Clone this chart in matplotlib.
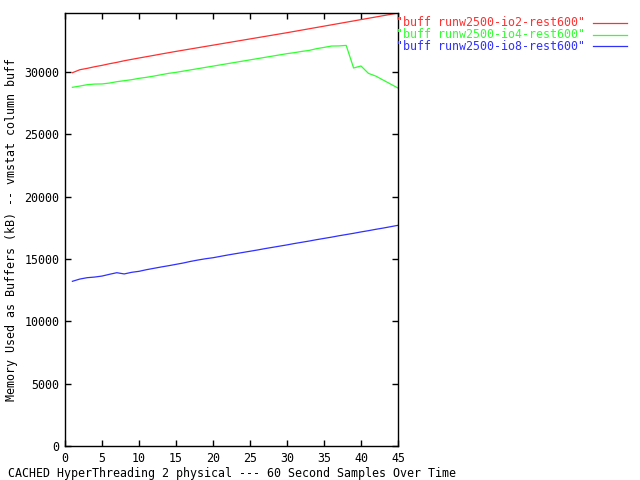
import matplotlib
matplotlib.use("Agg")
import matplotlib.pyplot as plt
from matplotlib.lines import Line2D

samples = list(range(1, 46))

labels = ['"buff runw2500-io2-rest600"',
          '"buff runw2500-io4-rest600"',
          '"buff runw2500-io8-rest600"']
colors = ['#ff3030', '#30ff30', '#3030ff']

io2 = [29940, 30180, 30290, 30420, 30530, 30660, 30770, 30900, 31010, 31120,
       31225, 31330, 31440, 31545, 31650, 31750, 31850, 31950, 32050, 32150,
       32250, 32350, 32450, 32550, 32650, 32750, 32850, 32950, 33050, 33150,
       33255, 33360, 33465, 33570, 33675, 33780, 33885, 33990, 34095, 34200,
       34305, 34410, 34515, 34620, 34730]
io4 = [28770, 28870, 28980, 29030, 29040, 29110, 29220, 29300, 29380, 29490,
       29570, 29670, 29780, 29890, 29970, 30070, 30170, 30270, 30370, 30470,
       30570, 30670, 30770, 30870, 30970, 31070, 31170, 31270, 31370, 31470,
       31550, 31650, 31730, 31870, 31970, 32080, 32090, 32130, 30320, 30480,
       29890, 29670, 29350, 29030, 28710]
io8 = [13210, 13390, 13500, 13550, 13630, 13770, 13900, 13800, 13930, 14010,
       14140, 14250, 14360, 14460, 14570, 14680, 14810, 14920, 15020, 15100,
       15210, 15320, 15420, 15520, 15620, 15720, 15830, 15930, 16030, 16130,
       16240, 16340, 16440, 16550, 16650, 16750, 16860, 16960, 17060, 17170,
       17270, 17380, 17480, 17590, 17700]

xticks = [0, 5, 10, 15, 20, 25, 30, 35, 40, 45]
yticks = [0, 5000, 10000, 15000, 20000, 25000, 30000]

font = "DejaVu Sans Mono"
fs = 8.4

fig = plt.figure(figsize=(6.4, 4.8), dpi=100)
W, H = 640, 480
ax_l, ax_r, ax_t, ax_b = 65, 398, 13, 446
ax = fig.add_axes([ax_l / W, 1 - ax_b / H, (ax_r - ax_l) / W, (ax_b - ax_t) / H])

series = [io2, io4, io8]
for ys, c in zip(series, colors):
    ax.plot(samples, ys, color=c, lw=0.9)

ax.set_xlim(0, 45)
ax.set_ylim(0, max(io2))
ax.set_xticks(xticks)
ax.set_yticks(yticks)
ax.tick_params(direction="in", length=4, width=1, top=True, right=True,
               labelsize=fs, pad=4)
for lab in ax.get_xticklabels() + ax.get_yticklabels():
    lab.set_fontfamily(font)
for sp in ax.spines.values():
    sp.set_linewidth(1)
    sp.set_color("black")

ax.set_xlabel("CACHED HyperThreading 2 physical --- 60 Second Samples Over Time",
              fontfamily=font, fontsize=fs, va="center")
ax.xaxis.set_label_coords(0.5, (ax_b - 473) / (ax_b - ax_t))
ax.set_ylabel("Memory Used as Buffers (kB) -- vmstat column buff",
              fontfamily=font, fontsize=fs, va="center")
ax.yaxis.set_label_coords((12 - ax_l) / (ax_r - ax_l), 0.5)

# legend (gnuplot style, outside right)
for i, (lab, c) in enumerate(zip(labels, colors)):
    yp = 1 - (23 + 11.5 * i) / H
    fig.text(585 / W, yp, lab, color=c, fontfamily=font, fontsize=fs,
             ha="right", va="center")
    fig.add_artist(Line2D([593 / W, 627 / W], [yp, yp], color=c, lw=0.9,
                          transform=fig.transFigure))

fig.savefig("out.png", dpi=100)
